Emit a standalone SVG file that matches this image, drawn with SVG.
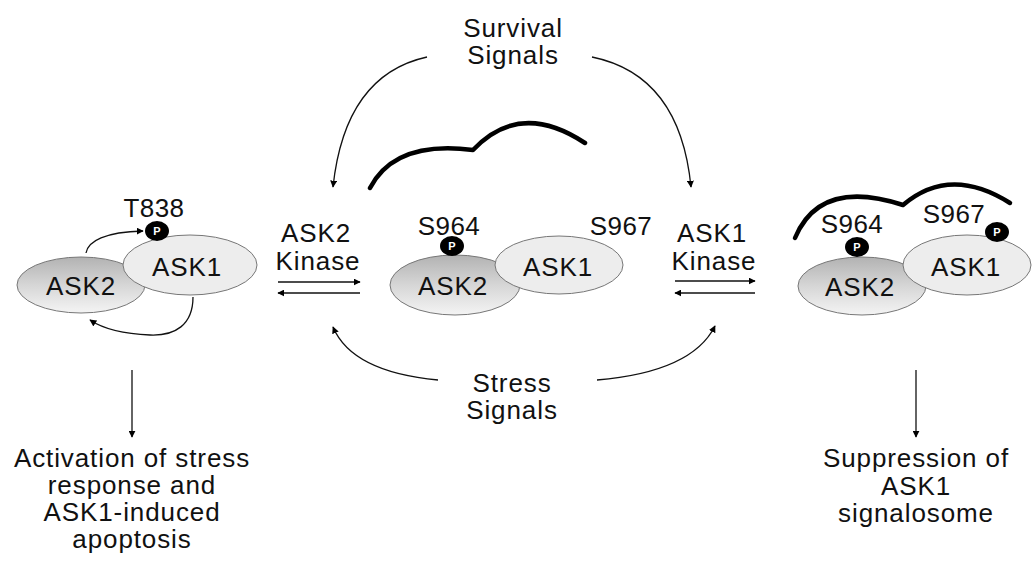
<svg xmlns="http://www.w3.org/2000/svg" width="1033" height="561" viewBox="0 0 1033 561">
<defs>
<linearGradient id="g2" x1="0" y1="0" x2="0" y2="1">
<stop offset="0" stop-color="#b2b2b2"/>
<stop offset="0.5" stop-color="#d6d6d6"/>
<stop offset="1" stop-color="#f4f4f4"/>
</linearGradient>
<marker id="ah" viewBox="0 0 10 10" refX="9" refY="5" markerWidth="7" markerHeight="7" markerUnits="userSpaceOnUse" orient="auto">
<path d="M0,0 L10,5 L0,10 Z" fill="#000"/>
</marker>
<style>
text{font-family:"Liberation Sans",Arial,Helvetica,sans-serif;fill:#111;}
.lbl{font-size:26px;letter-spacing:0.9px;text-anchor:middle;}
.site{font-size:26px;letter-spacing:0.4px;text-anchor:middle;}
.pt{font-size:11px;font-weight:bold;fill:#fff;text-anchor:middle;}
.a2{fill:url(#g2);stroke:#777;stroke-width:1;}
.a1{fill:#ededed;stroke:#777;stroke-width:1;}
.p{fill:#000;}
.ln{fill:none;stroke:#111;stroke-width:1.3;}
.thick{fill:none;stroke:#000;stroke-width:4.5;stroke-linecap:round;stroke-linejoin:round;}
</style>
</defs>
<rect width="1033" height="561" fill="#fff"/>

<g id="connectors">
<path class="ln" d="M86,253 C88,241 105,232 143,231" marker-end="url(#ah)"/>
<path class="ln" d="M193,297 C193,325 175,336 150,335 C125,334 105,330 90,320" marker-end="url(#ah)"/>
<path class="ln" d="M427,57 Q345,75 333,187" marker-end="url(#ah)"/>
<path class="ln" d="M592,57 Q680,75 691,187" marker-end="url(#ah)"/>
<path class="ln" d="M438,380 Q352,372 333,327" marker-end="url(#ah)"/>
<path class="ln" d="M597,380 Q692,372 715,326" marker-end="url(#ah)"/>
<path class="ln" d="M278,282 L360,282" marker-end="url(#ah)"/>
<path class="ln" d="M360,293 L278,293" marker-end="url(#ah)"/>
<path class="ln" d="M675,281 L755,281" marker-end="url(#ah)"/>
<path class="ln" d="M755,293 L675,293" marker-end="url(#ah)"/>
<path class="ln" d="M132,370 L132,437" marker-end="url(#ah)"/>
<path class="ln" d="M916,370 L916,437" marker-end="url(#ah)"/>
</g>

<g id="survival-signals">
<text class="lbl" x="513" y="37">Survival</text>
<text class="lbl" x="513" y="64">Signals</text>
</g>

<g id="stress-signals">
<text class="lbl" x="512" y="392">Stress</text>
<text class="lbl" x="512" y="419">Signals</text>
</g>

<g id="ask2-kinase">
<text class="lbl" x="316" y="242">ASK2</text>
<text class="lbl" x="318" y="270">Kinase</text>
</g>

<g id="ask1-kinase">
<text class="lbl" x="712" y="242">ASK1</text>
<text class="lbl" x="714" y="270">Kinase</text>
</g>

<g id="left-complex">
<ellipse class="a2" cx="81" cy="285" rx="64" ry="28"/>
<ellipse class="a1" cx="190" cy="265" rx="67" ry="30"/>
<text class="lbl" x="81" y="295">ASK2</text>
<text class="lbl" x="187" y="276">ASK1</text>
<ellipse class="p" cx="157" cy="231" rx="12" ry="10"/>
<text class="pt" x="157" y="235">P</text>
<text class="site" x="154" y="217">T838</text>
</g>

<g id="middle-complex">
<path class="thick" d="M370,188 Q395,140 473,150 Q520,100 585,143"/>
<ellipse class="a2" cx="455" cy="285" rx="65" ry="30"/>
<ellipse class="a1" cx="559" cy="265" rx="64" ry="29"/>
<text class="lbl" x="453" y="295">ASK2</text>
<text class="lbl" x="558" y="276">ASK1</text>
<ellipse class="p" cx="452" cy="246" rx="12" ry="10"/>
<text class="pt" x="452" y="250">P</text>
<text class="site" x="449" y="235">S964</text>
<text class="site" x="621" y="235">S967</text>
</g>

<g id="right-complex">
<path class="thick" d="M795,238 Q820,178 903,205 Q950,165 1010,203"/>
<ellipse class="a2" cx="862" cy="286" rx="64" ry="29"/>
<ellipse class="a1" cx="967" cy="265" rx="64" ry="30"/>
<text class="lbl" x="860" y="296">ASK2</text>
<text class="lbl" x="966" y="276">ASK1</text>
<ellipse class="p" cx="857" cy="247" rx="12" ry="10"/>
<text class="pt" x="857" y="251">P</text>
<ellipse class="p" cx="997" cy="232" rx="12" ry="10"/>
<text class="pt" x="997" y="236">P</text>
<text class="site" x="852" y="233">S964</text>
<text class="site" x="954" y="223">S967</text>
</g>

<g id="outcome-apoptosis">
<text class="lbl" x="132" y="467">Activation of stress</text>
<text class="lbl" x="132" y="494">response and</text>
<text class="lbl" x="132" y="521">ASK1-induced</text>
<text class="lbl" x="132" y="548">apoptosis</text>
</g>

<g id="outcome-suppression">
<text class="lbl" x="916" y="467">Suppression of</text>
<text class="lbl" x="916" y="495">ASK1</text>
<text class="lbl" x="916" y="522">signalosome</text>
</g>
</svg>
